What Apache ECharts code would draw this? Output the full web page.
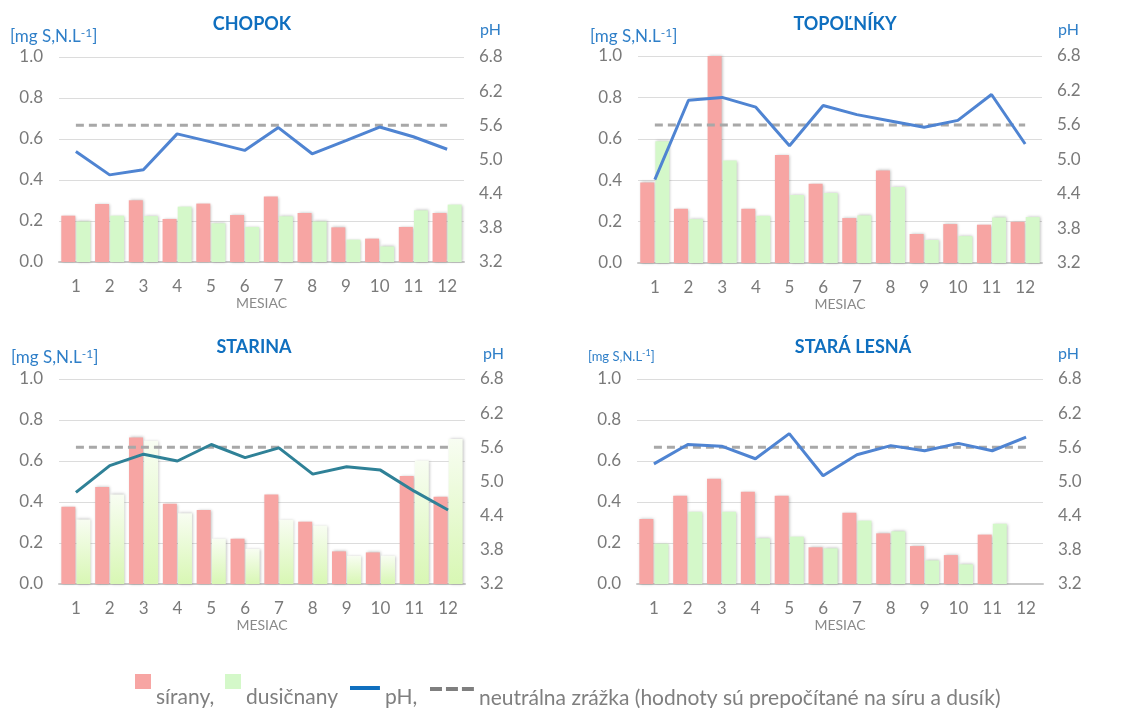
<!DOCTYPE html>
<html><head><meta charset="utf-8">
<script src="https://cdn.jsdelivr.net/npm/echarts@6/dist/echarts.min.js"></script>
<style>html,body{margin:0;padding:0;background:#fff}#c{width:1121px;height:708px}</style>
</head><body><div id="c"></div>
<script>
const months = ['1','2','3','4','5','6','7','8','9','10','11','12'];
const leftTicks = [0, 0.2, 0.4, 0.6, 0.8, 1.0];
const phTicks = [3.2, 3.8, 4.4, 5.0, 5.6, 6.2, 6.8];
const stations = ['CHOPOK', 'TOPOĽNÍKY', 'STARINA', 'STARÁ LESNÁ'];

const chopokSulfate = [0.226, 0.283, 0.301, 0.210, 0.285, 0.229, 0.319, 0.239, 0.169, 0.114, 0.171, 0.239];
const chopokNitrate = [0.198, 0.226, 0.224, 0.270, 0.189, 0.171, 0.223, 0.198, 0.109, 0.076, 0.252, 0.280];
const chopokPH      = [5.14, 4.73, 4.82, 5.45, 5.31, 5.16, 5.56, 5.10, 5.33, 5.57, 5.40, 5.18];

const topolnikySulfate = [0.389, 0.262, 1.000, 0.262, 0.522, 0.383, 0.217, 0.447, 0.140, 0.188, 0.185, 0.199];
const topolnikyNitrate = [0.588, 0.212, 0.495, 0.228, 0.328, 0.338, 0.230, 0.367, 0.111, 0.130, 0.220, 0.222];
const topolnikyPH      = [4.65, 6.03, 6.08, 5.91, 5.24, 5.94, 5.78, 5.67, 5.56, 5.68, 6.13, 5.27];

const starinaSulfate = [0.377, 0.473, 0.715, 0.392, 0.361, 0.221, 0.436, 0.304, 0.159, 0.154, 0.527, 0.426];
const starinaNitrate = [0.315, 0.437, 0.699, 0.345, 0.221, 0.171, 0.314, 0.285, 0.137, 0.138, 0.602, 0.707];
const starinaPH      = [4.81, 5.28, 5.48, 5.36, 5.65, 5.42, 5.59, 5.13, 5.26, 5.20, 4.83, 4.50];

const staraLesnaSulfate = [0.317, 0.431, 0.514, 0.450, 0.431, 0.179, 0.348, 0.247, 0.185, 0.141, 0.241, null];
const staraLesnaNitrate = [0.197, 0.353, 0.353, 0.223, 0.231, 0.174, 0.309, 0.257, 0.115, 0.096, 0.294, null];
const staraLesnaPH      = [5.31, 5.65, 5.62, 5.40, 5.84, 5.10, 5.47, 5.63, 5.54, 5.67, 5.54, 5.78];

const neutralPH = [5.6, 5.6, 5.6, 5.6, 5.6, 5.6, 5.6, 5.6, 5.6, 5.6, 5.6, 5.6];

const panels = [
  {sul: chopokSulfate, nit: chopokNitrate, ph: chopokPH, phColor: '#4f84d2', gradient: false},
  {sul: topolnikySulfate, nit: topolnikyNitrate, ph: topolnikyPH, phColor: '#4f84d2', gradient: false},
  {sul: starinaSulfate, nit: starinaNitrate, ph: starinaPH, phColor: '#2f8197', gradient: true},
  {sul: staraLesnaSulfate, nit: staraLesnaNitrate, ph: staraLesnaPH, phColor: '#4f84d2', gradient: false}
];

const FONT = 'Lato';
const grids = [
  {left: 59, top: 57, width: 405, height: 205},
  {left: 638, top: 56, width: 404, height: 207},
  {left: 59, top: 379, width: 406, height: 205},
  {left: 637, top: 379, width: 406, height: 205}
];
const titlePos = [
  {x: 252, y: 15}, {x: 845, y: 15}, {x: 254, y: 338}, {x: 853, y: 338}
];
const unitPos = [
  {x: 10, y: 27, fs: 17}, {x: 590, y: 27, fs: 17}, {x: 11, y: 348, fs: 17}, {x: 588, y: 349, fs: 13}
];
const phPos = [
  {x: 480, y: 22}, {x: 1058, y: 22}, {x: 483, y: 346}, {x: 1058, y: 346}
];

const title = [];
stations.forEach((s, i) => {
  title.push({text: s, left: titlePos[i].x, top: titlePos[i].y, textAlign: 'center', padding: 0,
    textStyle: {fontFamily: FONT, fontSize: 18, fontWeight: 'bold', color: '#0f6fbf'}});
  const fs = unitPos[i].fs;
  title.push({text: '[mg S,N.L{sup|-1}]', left: unitPos[i].x, top: unitPos[i].y, padding: 0,
    textStyle: {fontFamily: FONT, fontSize: fs, fontWeight: 'normal', color: '#2f7fc8',
      rich: {sup: {fontFamily: FONT, fontSize: Math.round(fs * 0.7), fontWeight: 'normal', color: '#2f7fc8', verticalAlign: 'top', padding: [0, 0, Math.round(fs * 0.45), 0]}}}});
  title.push({text: 'pH', left: phPos[i].x, top: phPos[i].y, padding: 0,
    textStyle: {fontFamily: FONT, fontSize: 16, color: '#2f7fc8', fontWeight: 'normal'}});
});

const xAxis = [], yAxis = [], series = [];
panels.forEach((p, i) => {
  xAxis.push({type: 'category', gridIndex: i, data: months,
    name: 'MESIAC', nameLocation: 'middle', nameGap: 34,
    nameTextStyle: {fontFamily: FONT, fontSize: 14, color: '#8a8a8a'},
    axisTick: {show: false},
    axisLine: {lineStyle: {color: '#c8c8c8', width: 2}},
    axisLabel: {fontFamily: FONT, fontSize: 17, color: '#7a7a7a', margin: 16}});
  yAxis.push({type: 'value', gridIndex: i, min: leftTicks[0], max: leftTicks[leftTicks.length - 1], interval: 0.2,
    axisLine: {show: false}, axisTick: {show: false},
    splitLine: {lineStyle: {color: '#dcdcdc', width: 1}},
    axisLabel: {fontFamily: FONT, fontSize: 17, color: '#7a7a7a', margin: 16, formatter: v => v.toFixed(1)}});
  yAxis.push({type: 'value', gridIndex: i, position: 'right', min: phTicks[0], max: phTicks[phTicks.length - 1], interval: 0.6,
    axisLine: {show: false}, axisTick: {show: false}, splitLine: {show: false},
    axisLabel: {fontFamily: FONT, fontSize: 17, color: '#7a7a7a', margin: 15, formatter: v => v.toFixed(1)}});

  const shadow = {shadowBlur: 3, shadowColor: 'rgba(0,0,0,0.28)', shadowOffsetX: 1, shadowOffsetY: 0};
  series.push({name: 'sírany', type: 'bar', xAxisIndex: i, yAxisIndex: i * 2, data: p.sul,
    barWidth: 14, barGap: '8%',
    itemStyle: Object.assign({color: '#f7a5a3'}, shadow)});
  series.push({name: 'dusičnany', type: 'bar', xAxisIndex: i, yAxisIndex: i * 2, data: p.nit,
    barWidth: 14, barGap: '8%',
    itemStyle: Object.assign({color: p.gradient ?
      new echarts.graphic.LinearGradient(0, 0, 0, 1, [{offset: 0, color: '#f8fdf2'}, {offset: 1, color: '#d8f7b4'}]) :
      '#d4f8c9'}, shadow)});
  series.push({name: 'neutrálna zrážka', type: 'line', xAxisIndex: i, yAxisIndex: i * 2 + 1, data: neutralPH,
    symbol: 'none', z: 3,
    lineStyle: {color: '#a8a8a8', width: 3, type: [8, 5]}, itemStyle: {color: '#a8a8a8'}});
  series.push({name: 'pH', type: 'line', xAxisIndex: i, yAxisIndex: i * 2 + 1, data: p.ph,
    symbol: 'none', z: 4,
    lineStyle: {color: p.phColor, width: 3}, itemStyle: {color: p.phColor}});
});

const legendText = {fontFamily: FONT, fontSize: 21, color: '#7f7f7f'};
const sqIcon = 'path://M0,0 H16 V15 H0 Z M0,47 h0.05 v0.05 h-0.05 Z';
const phIcon = 'path://M0,0 H30 V4 H0 Z M0,22 h0.05 v0.05 h-0.05 Z';
const dashIcon = 'path://M0,0 H12 V4 H0 Z M16,0 H28 V4 H16 Z M32,0 H44 V4 H32 Z M0,22 h0.05 v0.05 h-0.05 Z';
const legend = [
  {data: [{name: 'sírany', icon: sqIcon, itemStyle: {color: '#f7a5a3', borderWidth: 0, shadowBlur: 0}}], left: 135, top: 674,
   padding: 0, itemWidth: 16, itemHeight: 47, itemGap: 0, formatter: () => 'sírany,',
   textStyle: legendText, selectedMode: false},
  {data: [{name: 'dusičnany', icon: sqIcon, itemStyle: {color: '#d4f8c9', borderWidth: 0, shadowBlur: 0}}], left: 225, top: 674,
   padding: 0, itemWidth: 16, itemHeight: 47, itemGap: 0,
   textStyle: legendText, selectedMode: false},
  {data: [{name: 'pH', icon: phIcon, itemStyle: {color: '#0f6fbf', borderWidth: 0}}], left: 350, top: 686,
   padding: 0, itemWidth: 30, itemHeight: 22, itemGap: 0, formatter: () => 'pH,',
   textStyle: legendText, selectedMode: false},
  {data: [{name: 'neutrálna zrážka', icon: dashIcon, itemStyle: {color: '#7f7f7f', borderWidth: 0}}], left: 430, top: 687,
   padding: 0, itemWidth: 44, itemHeight: 22, itemGap: 0, formatter: () => 'neutrálna zrážka (hodnoty sú prepočítané na síru a dusík)',
   textStyle: legendText, selectedMode: false}
];

const chart = echarts.init(document.getElementById('c'), null, {renderer: 'canvas'});
chart.setOption({
  backgroundColor: '#ffffff',
  animation: false,
  textStyle: {fontFamily: FONT},
  title: title,
  legend: legend,
  grid: grids,
  xAxis: xAxis,
  yAxis: yAxis,
  series: series
});
</script></body></html>
